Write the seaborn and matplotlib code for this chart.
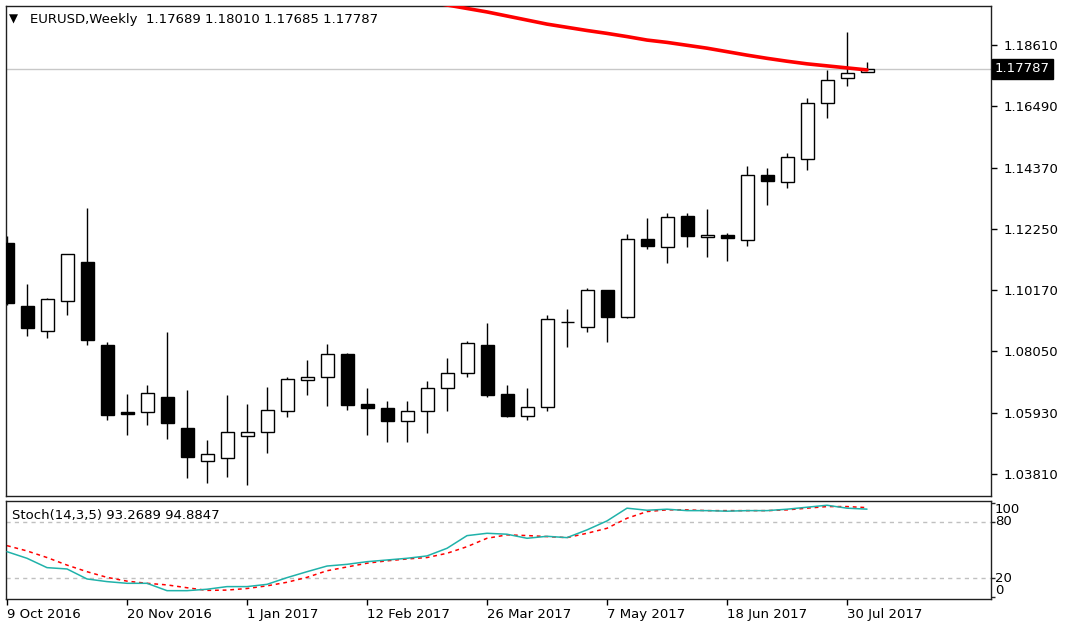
import numpy as np
import pandas as pd
import matplotlib
matplotlib.use("Agg")
import matplotlib.pyplot as plt
import matplotlib.transforms as mtransforms
import seaborn as sns

# ---------------- data ----------------
opens = [1.1178, 1.0962, 1.0876, 1.0979, 1.1114, 1.0825, 1.0596, 1.0594, 1.0648, 1.0540,
         1.0427, 1.0435, 1.0512, 1.0526, 1.0600, 1.0707, 1.0715, 1.0795, 1.0623, 1.0609,
         1.0565, 1.0600, 1.0677, 1.0729, 1.0825, 1.0657, 1.0581, 1.0612, 1.0904, 1.0888,
         1.1015, 1.0922, 1.1191, 1.1163, 1.1271, 1.1200, 1.1207, 1.1188, 1.1413, 1.1387,
         1.1467, 1.1660, 1.1746, 1.17689]
highs = [1.1202, 1.1037, 1.0987, 1.1140, 1.1298, 1.0838, 1.0657, 1.0688, 1.0872, 1.0670,
         1.0497, 1.0654, 1.0623, 1.0682, 1.0717, 1.0773, 1.0830, 1.0800, 1.0679, 1.0632,
         1.0632, 1.0701, 1.0782, 1.0839, 1.0903, 1.0687, 1.0679, 1.0930, 1.0950, 1.1022,
         1.1015, 1.1209, 1.1265, 1.1280, 1.1280, 1.1294, 1.1214, 1.1444, 1.1438, 1.1490,
         1.1679, 1.1775, 1.1907, 1.18010]
lows = [1.0964, 1.0857, 1.0849, 1.0930, 1.0827, 1.0567, 1.0516, 1.0550, 1.0502, 1.0366,
        1.0349, 1.0370, 1.0343, 1.0453, 1.0577, 1.0654, 1.0616, 1.0602, 1.0516, 1.0491,
        1.0491, 1.0522, 1.0599, 1.0715, 1.0646, 1.0577, 1.0567, 1.0599, 1.0818, 1.0870,
        1.0835, 1.0918, 1.1158, 1.1108, 1.1163, 1.1129, 1.1116, 1.1168, 1.1309, 1.1367,
        1.1431, 1.1608, 1.1720, 1.17685]
closes = [1.0971, 1.0884, 1.0984, 1.1139, 1.0844, 1.0585, 1.0589, 1.0661, 1.0556, 1.0439,
          1.0449, 1.0527, 1.0526, 1.0601, 1.0708, 1.0716, 1.0795, 1.0619, 1.0608, 1.0565,
          1.0600, 1.0678, 1.0731, 1.0834, 1.0654, 1.0581, 1.0612, 1.0916, 1.0907, 1.1015,
          1.0923, 1.1191, 1.1168, 1.1269, 1.1202, 1.1205, 1.1194, 1.1413, 1.1392, 1.1474,
          1.1660, 1.1739, 1.1765, 1.17787]

ma_first_bar = 20
ma_values = [1.2024, 1.2011, 1.1999, 1.1987, 1.1975, 1.1961, 1.1947, 1.1933, 1.1922, 1.1911,
             1.1901, 1.1890, 1.1878, 1.1870, 1.1860, 1.1850, 1.1838, 1.1826, 1.1815, 1.1805,
             1.1796, 1.1789, 1.1782, 1.1775]

stoch_main = [48.2, 41.2, 31.3, 29.9, 19.3, 16.5, 14.7, 14.7, 6.9, 6.9,
              8.4, 11.2, 11.2, 13.6, 20.7, 27.0, 33.0, 34.8, 37.6, 39.4,
              41.2, 43.7, 51.8, 65.2, 67.7, 66.7, 62.4, 64.5, 63.1, 71.3,
              80.8, 94.3, 92.1, 93.2, 91.7, 91.7, 91.1, 91.7, 91.7, 93.2,
              95.3, 97.4, 94.3, 93.27]
stoch_signal = [54.6, 49.0, 42.0, 34.0, 27.0, 21.0, 17.0, 14.7, 13.0, 10.0,
                7.2, 7.5, 9.2, 12.0, 15.8, 21.0, 28.0, 32.0, 36.0, 38.5,
                40.5, 42.0, 46.5, 53.5, 62.4, 66.0, 65.3, 64.2, 63.1, 67.7,
                73.0, 83.6, 90.7, 92.5, 92.5, 91.7, 91.7, 91.7, 91.7, 92.5,
                94.3, 96.0, 96.0, 94.88]

price_ticks = [1.18610, 1.16490, 1.14370, 1.12250, 1.10170, 1.08050, 1.05930, 1.03810]
date_tick_bars = [0, 6, 12, 18, 24, 30, 36, 42]
date_tick_labels = ["9 Oct 2016", "20 Nov 2016", "1 Jan 2017", "12 Feb 2017",
                    "26 Mar 2017", "7 May 2017", "18 Jun 2017", "30 Jul 2017"]
stoch_levels = [20, 80]
stoch_tick_values = [0, 20, 80, 100]
last_price = 1.17787
header_text = "EURUSD,Weekly  1.17689 1.18010 1.17685 1.17787"
stoch_text = "Stoch(14,3,5) 93.2689 94.8847"

# ---------------- style ----------------
sns.set_style("white")
plt.rcParams['font.family'] = ['DejaVu Sans']
FS = 9.5

W, H = 1072, 632
fig = plt.figure(figsize=(W / 100, H / 100), dpi=100)
fig.patch.set_facecolor("white")


def rect(l, t, r, b):
    return [l / W, 1 - b / H, (r - l) / W, (b - t) / H]


ax = fig.add_axes(rect(6, 6, 991, 496))
ax2 = fig.add_axes(rect(6, 501, 991, 598.5))

n = len(opens)
df = pd.DataFrame(dict(bar=np.arange(n), o=opens, h=highs, l=lows, c=closes))
bull = df.c >= df.o

# ---- candles ----
ax.vlines(df.bar, df.l, df.h, color="black", lw=1.0, zorder=2)
bottoms = np.minimum(df.o, df.c)
heights = np.abs(df.c - df.o)
ax.bar(df.bar, heights, bottom=bottoms, width=0.65,
       color=np.where(bull, "white", "black"), edgecolor="black",
       linewidth=1.0, zorder=3)

# current price line
ax.axhline(last_price, color="#c8c8c8", lw=1.0, zorder=1)

# moving average
ma_df = pd.DataFrame(dict(bar=np.arange(ma_first_bar, ma_first_bar + len(ma_values)),
                          ma=ma_values))
sns.lineplot(data=ma_df, x="bar", y="ma", ax=ax, color="#ff0000", lw=2.6, zorder=4)

ax.set_xlim(-0.05, 49.2)
ax.set_ylim(1.03053, 1.19955)
ax.set_xticks([])
ax.set_xlabel("")
ax.set_ylabel("")
ax.yaxis.tick_right()
ax.set_yticks(price_ticks)
ax.set_yticklabels([f"{v:.5f}" for v in price_ticks])
ax.tick_params(axis="y", direction="out", length=4, width=1, pad=5,
               labelsize=FS, right=True, left=False, colors="black")

# price label box
trans = mtransforms.blended_transform_factory(ax.transAxes, ax.transData)
ax.text(1.004, last_price, "1.17787", transform=trans, ha="left", va="center",
        fontsize=FS, color="white",
        bbox=dict(boxstyle="square,pad=0.25", fc="black", ec="black"), zorder=10,
        clip_on=False)

# ---- stochastic ----
st_df = pd.DataFrame(dict(bar=np.arange(n), main=stoch_main, signal=stoch_signal))
for lv in stoch_levels:
    ax2.axhline(lv, color="#c0c0c0", lw=1.0, ls=(0, (3, 3)), zorder=1)
sns.lineplot(data=st_df, x="bar", y="main", ax=ax2, color="#20b2aa", lw=1.1, zorder=3)
sns.lineplot(data=st_df, x="bar", y="signal", ax=ax2, color="#ff0000", lw=1.1,
             zorder=2, linestyle=(0, (2.5, 2.5)))
ax2.set_xlim(-0.05, 49.2)
ax2.set_ylim(-1.4, 101.9)
ax2.set_xlabel("")
ax2.set_ylabel("")
ax2.yaxis.tick_right()
ax2.set_yticks(stoch_tick_values)
ax2.set_yticklabels([])
ax2.tick_params(axis="y", direction="out", length=3, width=1, right=True, left=False)
trans2 = mtransforms.blended_transform_factory(ax2.transAxes, ax2.transData)
for v in stoch_tick_values:
    va = "top" if v == 100 else ("bottom" if v == 0 else "center")
    ax2.text(1.004, v, str(v), transform=trans2, ha="left", va=va,
             fontsize=FS, color="black", clip_on=False)

ax2.set_xticks(date_tick_bars)
ax2.set_xticklabels(date_tick_labels)
ax2.tick_params(axis="x", direction="out", length=4, width=1, pad=3,
                labelsize=FS, bottom=True, colors="black")
for lab in ax2.get_xticklabels():
    lab.set_horizontalalignment("left")

for a in (ax, ax2):
    for s in a.spines.values():
        s.set_visible(True)
        s.set_color("#202020")
        s.set_linewidth(1.0)

# ---- texts ----
fig.text(9 / W, 1 - 19 / H, "\u25bc", fontsize=8.5, va="center", ha="left", color="black")
fig.text(30 / W, 1 - 19 / H, header_text, fontsize=FS, va="center", ha="left", color="black")
fig.text(12 / W, 1 - 515 / H, stoch_text, fontsize=FS, va="center", ha="left", color="black")

fig.savefig("out.png", dpi=100, facecolor="white")
